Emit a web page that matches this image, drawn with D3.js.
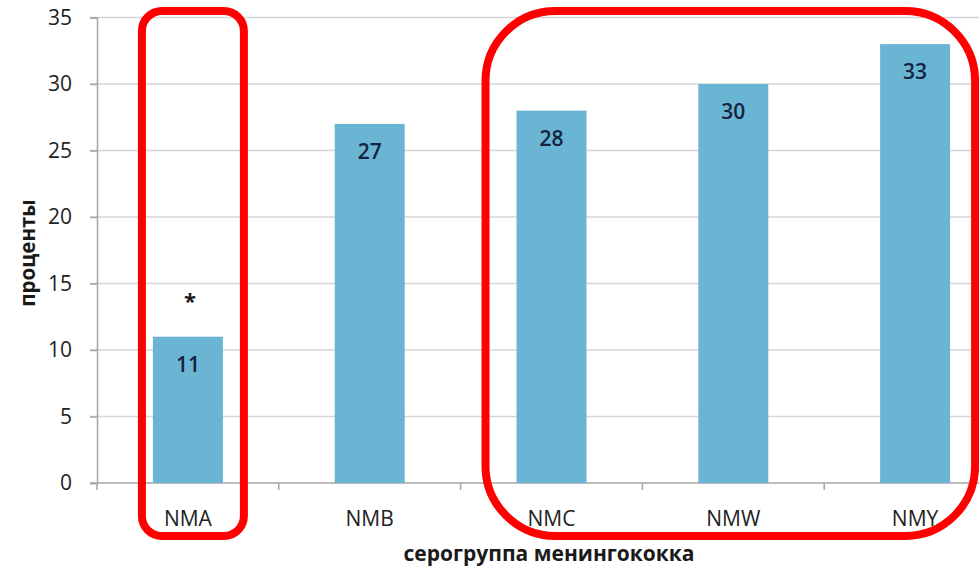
<!DOCTYPE html>
<html>
<head>
<meta charset="utf-8">
<script src="https://cdn.jsdelivr.net/npm/d3@7"></script>
<style>
  html, body { margin: 0; padding: 0; background: #ffffff; }
  svg { display: block; }
  text { font-family: "Open Sans", "Lato", sans-serif; }
</style>
</head>
<body>
<svg id="chart" width="979" height="567"></svg>
<script>
// Meningococcal serogroups and their share, percent
const categories = ["NMA", "NMB", "NMC", "NMW", "NMY"];
const values = [11, 27, 28, 30, 33];
const yTicks = [0, 5, 10, 15, 20, 25, 30, 35];
const marked = ["NMA"];              // serogroup flagged with an asterisk
const groupLeft = ["NMA"];           // highlighted on its own
const groupRight = ["NMC", "NMW", "NMY"]; // highlighted together
const yTitle = "проценты";
const xTitle = "серогруппа менингококка";

const svg = d3.select("#chart");
const W = 979, H = 567;
const plot = { left: 97, right: 1006, top: 17.5, bottom: 483 };

const x = d3.scaleBand()
  .domain(categories)
  .range([plot.left, plot.right])
  .paddingInner(0.615)
  .paddingOuter(0.3075);

const y = d3.scaleLinear()
  .domain([0, 35])
  .range([plot.bottom, plot.top]);

// Horizontal gridlines
svg.append("g")
  .selectAll("line")
  .data(yTicks.filter(d => d > 0))
  .join("line")
  .attr("x1", plot.left - 7)
  .attr("x2", W)
  .attr("y1", d => y(d))
  .attr("y2", d => y(d))
  .attr("stroke", "#d6d6d6")
  .attr("stroke-width", 1.5);

// Y axis
const yAxis = svg.append("g")
  .attr("transform", `translate(${plot.left},0)`)
  .call(d3.axisLeft(y).tickValues(yTicks).tickSize(7).tickPadding(18));
yAxis.select(".domain").attr("stroke", "#a6a6a6").attr("stroke-width", 1.5);
yAxis.selectAll(".tick line").attr("stroke", "#a6a6a6").attr("stroke-width", 1.5);
yAxis.selectAll(".tick text")
  .attr("fill", "#222222")
  .attr("font-size", 21)
  .style("font-family", "'Open Sans', sans-serif");

// X axis with ticks at band boundaries
const xBase = svg.append("g");
xBase.append("line")
  .attr("x1", plot.left - 7).attr("x2", W)
  .attr("y1", y(0)).attr("y2", y(0))
  .attr("stroke", "#a6a6a6").attr("stroke-width", 1.5);
xBase.selectAll("line.sep")
  .data(categories.slice(1))
  .join("line")
  .attr("class", "sep")
  .attr("x1", d => x(d) - x.step() * x.paddingInner() / 2)
  .attr("x2", d => x(d) - x.step() * x.paddingInner() / 2)
  .attr("y1", y(0))
  .attr("y2", y(0) + 7)
  .attr("stroke", "#a6a6a6").attr("stroke-width", 1.5);
xBase.append("line")
  .attr("x1", plot.left).attr("x2", plot.left)
  .attr("y1", y(0)).attr("y2", y(0) + 7)
  .attr("stroke", "#a6a6a6").attr("stroke-width", 1.5);

// Category labels
svg.append("g")
  .selectAll("text")
  .data(categories)
  .join("text")
  .attr("x", d => x(d) + x.bandwidth() / 2)
  .attr("y", 526)
  .attr("text-anchor", "middle")
  .attr("fill", "#222222")
  .attr("font-size", 21)
  .text(d => d);

// Bars
const data = categories.map((c, i) => ({ c, v: values[i] }));
svg.append("g")
  .selectAll("rect")
  .data(data)
  .join("rect")
  .attr("x", d => x(d.c))
  .attr("width", x.bandwidth())
  .attr("y", d => y(d.v))
  .attr("height", d => y(0) - y(d.v))
  .attr("fill", "#6ab5d3");

// Value labels inside the bars
svg.append("g")
  .selectAll("text")
  .data(data)
  .join("text")
  .attr("x", d => x(d.c) + x.bandwidth() / 2)
  .attr("y", d => y(d.v) + 35)
  .attr("text-anchor", "middle")
  .attr("fill", "#14233f")
  .attr("font-size", 21)
  .attr("font-weight", 600)
  .text(d => d.v);

// Significance marker
svg.append("g")
  .selectAll("text")
  .data(data.filter(d => marked.includes(d.c)))
  .join("text")
  .attr("x", d => x(d.c) + x.bandwidth() / 2 + 2)
  .attr("y", d => y(d.v) - 28)
  .attr("text-anchor", "middle")
  .attr("fill", "#1a1a1a")
  .attr("font-size", 22)
  .attr("font-weight", "bold")
  .text("*");

// Axis titles
svg.append("text")
  .attr("transform", `translate(35,${253}) rotate(-90)`)
  .attr("text-anchor", "middle")
  .attr("fill", "#1a1a1a")
  .attr("font-size", 20.5)
  .attr("font-weight", "bold")
  .text(yTitle);

svg.append("text")
  .attr("x", 549)
  .attr("y", 561)
  .attr("text-anchor", "middle")
  .attr("fill", "#1a1a1a")
  .attr("font-size", 21)
  .attr("font-weight", "bold")
  .text(xTitle);

// Red highlight frames around serogroup groups
function frame(group, padL, padR, radius) {
  const first = group[0], last = group[group.length - 1];
  const x0 = x(first) - padL;
  const x1 = x(last) + x.bandwidth() + padR;
  svg.append("rect")
    .attr("x", x0)
    .attr("y", 11)
    .attr("width", x1 - x0)
    .attr("height", 525)
    .attr("rx", radius)
    .attr("ry", radius)
    .attr("fill", "none")
    .attr("stroke", "#ff0000")
    .attr("stroke-width", 8);
}
frame(groupLeft, 11, 21, 20);
frame(groupRight, 31, 25, 70);
</script>
</body>
</html>
